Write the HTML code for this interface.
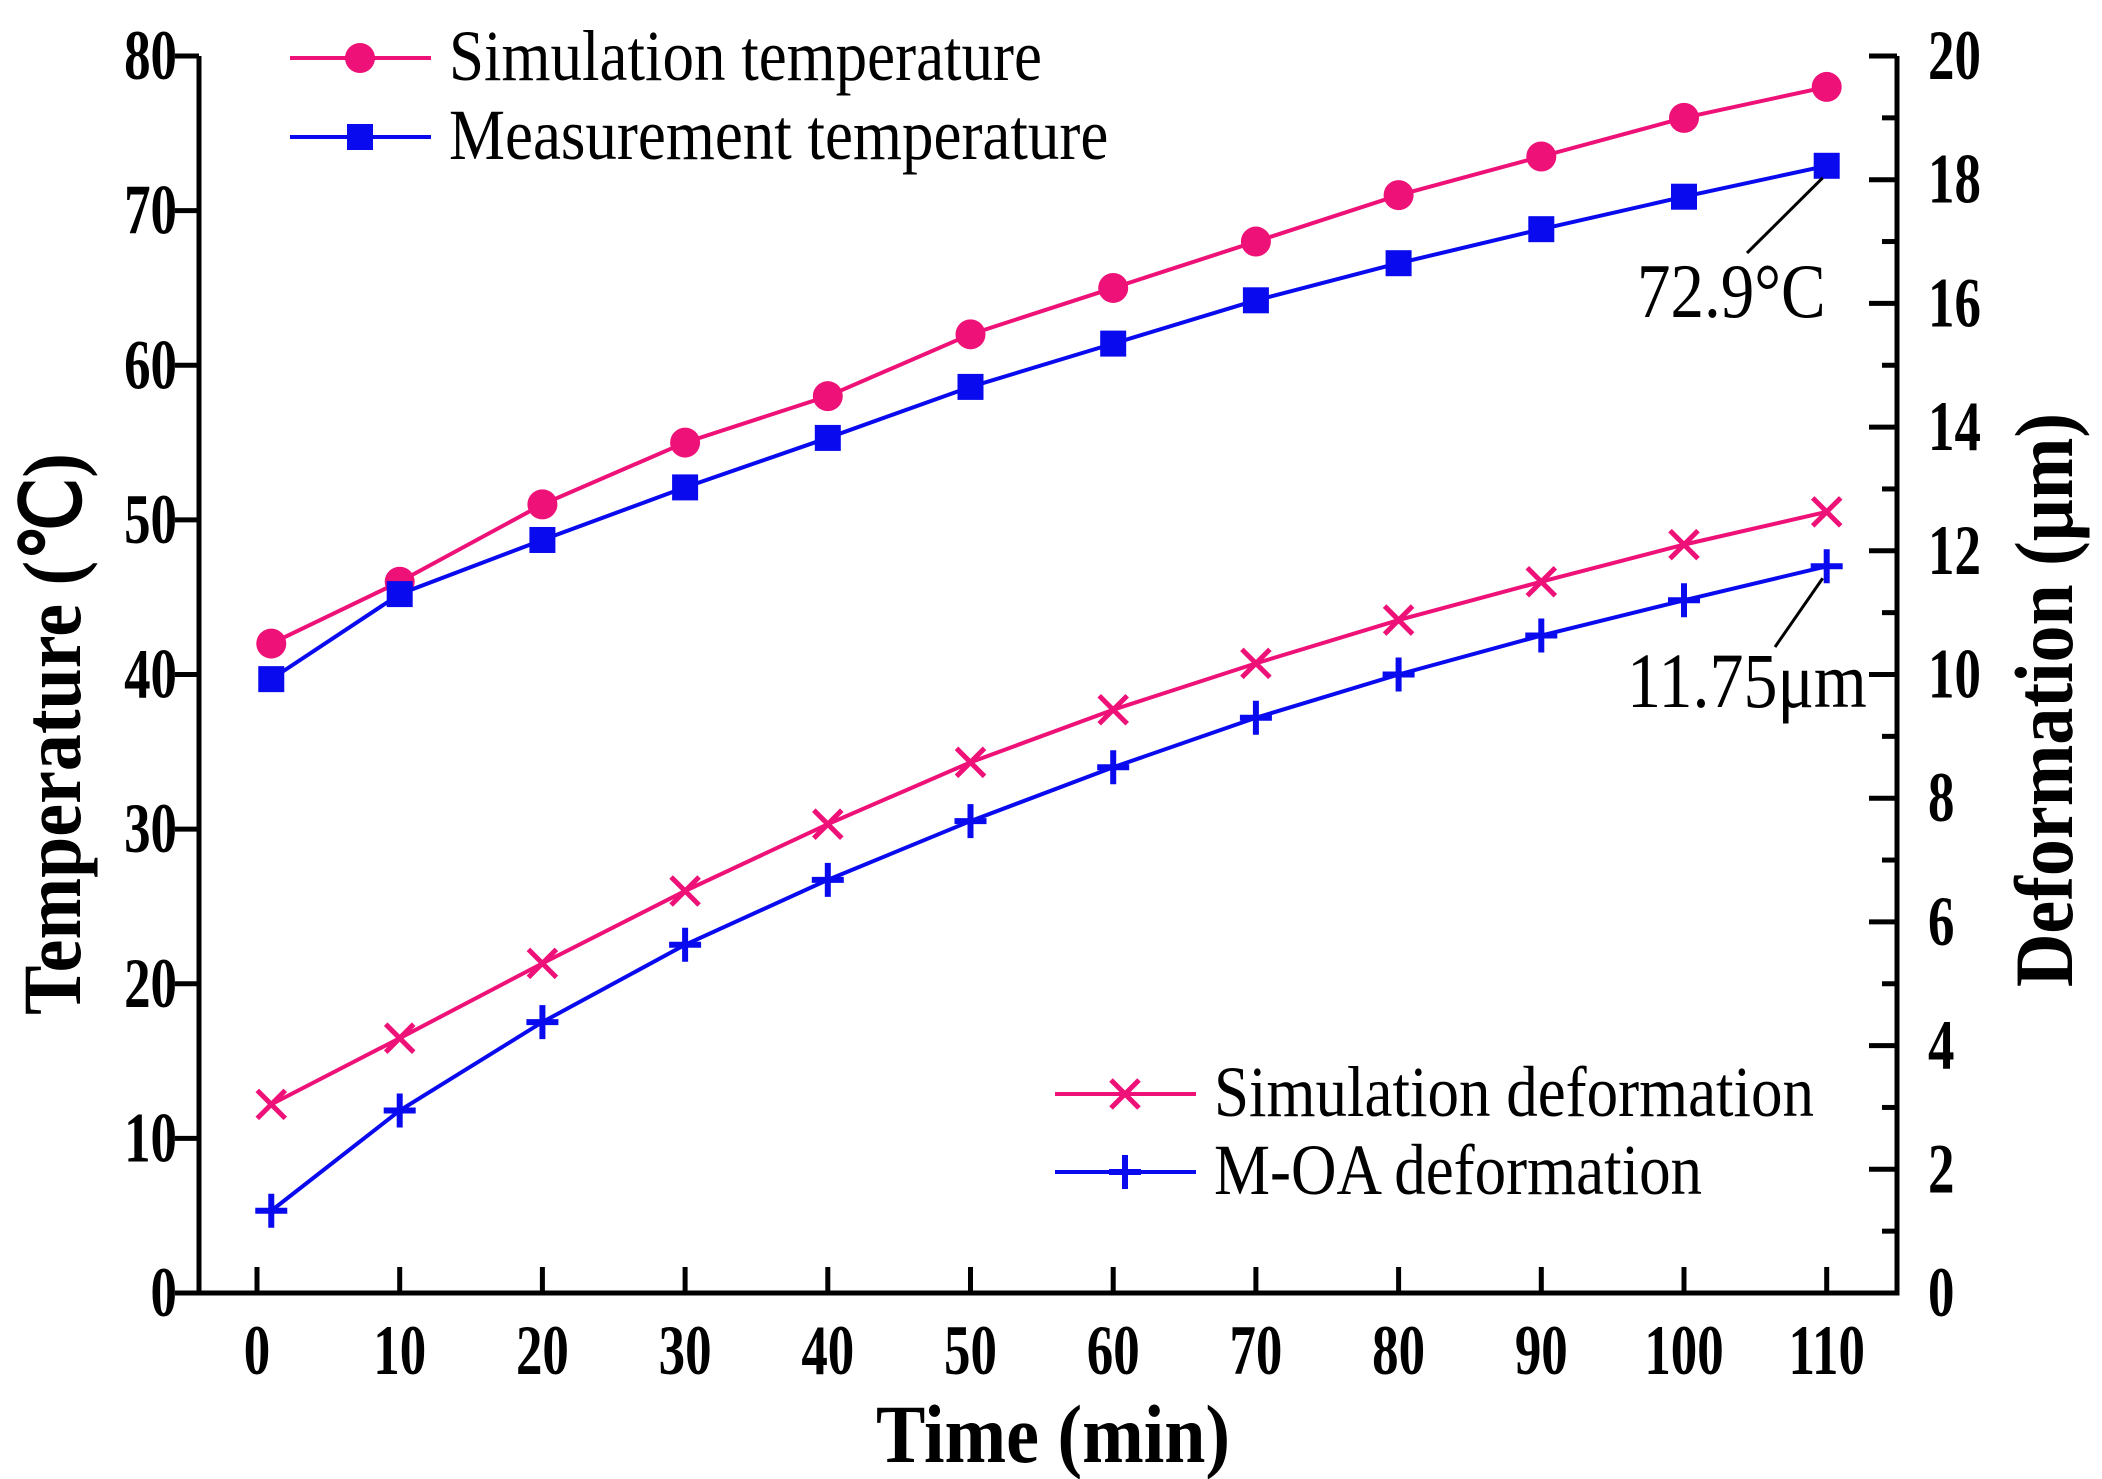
<!DOCTYPE html>
<html><head><meta charset="utf-8"><style>
html,body{margin:0;padding:0;background:#fff}
svg{display:block;font-family:"Liberation Serif",serif}
</style></head><body>
<svg id="chart" width="2102" height="1479" viewBox="0 0 2102 1479" xmlns="http://www.w3.org/2000/svg">
<g id="axes"></g><g id="series"></g>
</svg>
<script>
const times = [1,10,20,30,40,50,60,70,80,90,100,110];
const simTemp = [42,46,51,55,58,62,65,68,71,73.5,76,78];
const measTemp = [39.7,45.2,48.7,52.1,55.3,58.6,61.4,64.2,66.6,68.8,70.9,72.9];
const simDef = [3.05,4.12,5.33,6.5,7.58,8.58,9.43,10.18,10.88,11.5,12.1,12.63];
const moaDef = [1.33,2.95,4.38,5.63,6.68,7.63,8.5,9.3,10,10.63,11.2,11.75];
const xTicks = [0,10,20,30,40,50,60,70,80,90,100,110];
const leftTicks = [0,10,20,30,40,50,60,70,80];
const rightTicks = [0,2,4,6,8,10,12,14,16,18,20];

const NS="http://www.w3.org/2000/svg";
const L=199,R=1897,T=56,B=1293;
const xs=v=>257+v*14.27;
const yl=v=>B-(v/80)*(B-T);
const yr=v=>B-(v/20)*(B-T);
const axes=document.getElementById('axes'), ser=document.getElementById('series');
function el(tag,attrs,parent,text){const e=document.createElementNS(NS,tag);for(const k in attrs)e.setAttribute(k,attrs[k]);if(text!==undefined)e.textContent=text;parent.appendChild(e);return e;}
function txt(x,y,sx,sy,attrs,parent,text,rot){
  attrs.x=0;attrs.y=0;
  attrs.transform=`translate(${x},${y})`+(rot?` rotate(${rot})`:'')+` scale(${sx},${sy})`;
  return el('text',attrs,parent,text);
}

let e;
e=el('path',{d:`M${L} ${T}V${B}H${R}V${T}`,fill:'none',stroke:'#000','stroke-width':5},axes);


xTicks.forEach(v=>{
  e=el('line',{x1:xs(v),x2:xs(v),y1:B,y2:B-26,stroke:'#000','stroke-width':5},axes);
  
  
  e=txt(xs(v),1374,0.98,1.32,{'text-anchor':'middle','font-size':54,'font-weight':'bold'},axes,String(v));
  
  
});
leftTicks.forEach(v=>{
  e=el('line',{x1:L,x2:L-24,y1:yl(v),y2:yl(v),stroke:'#000','stroke-width':5},axes);
  
  
  e=txt(177,yl(v)+23,0.98,1.32,{'text-anchor':'end','font-size':54,'font-weight':'bold'},axes,String(v));
  
  
});
for(let v=0;v<=20;v++){
  const major=v%2===0;
  e=el('line',{x1:R,x2:R-(major?28:15),y1:yr(v),y2:yr(v),stroke:'#000','stroke-width':5},axes);
  
  
}
rightTicks.forEach(v=>{
  e=txt(1928,yr(v)+23,0.98,1.32,{'font-size':54,'font-weight':'bold'},axes,String(v));
  
  
});
e=txt(1053,1462,1,1.12,{'text-anchor':'middle','font-size':74,'font-weight':'bold'},axes,'Time (min)');


e=txt(80,734,1,1.12,{'text-anchor':'middle','font-size':74,'font-weight':'bold'},axes,'Temperature (℃)',-90);


e=txt(2072,700,1,1.12,{'text-anchor':'middle','font-size':74,'font-weight':'bold'},axes,'Deformation (μm)',-90);



const PINK='#ee1177',BLUE='#0a0aee';
function marker(type,x,y,color,g){
  if(type==='circle')return el('circle',{cx:x,cy:y,r:15,fill:color},g);
  if(type==='square')return el('rect',{x:x-13,y:y-13,width:26,height:26,fill:color},g);
  if(type==='x')return el('path',{d:`M${x-14} ${y-14}L${x+14} ${y+14}M${x-14} ${y+14}L${x+14} ${y-14}`,stroke:color,'stroke-width':5},g);
  return el('path',{d:`M${x-16} ${y}H${x+16}M${x} ${y-17}V${y+17}`,stroke:color,'stroke-width':6},g);
}
function series(name,vals,ys,color,type){
  const g=el('g',{},ser);
  
  
  const d=vals.map((v,i)=>(i?'L':'M')+xs(times[i])+' '+ys(v)).join('');
  el('path',{d:d,fill:'none',stroke:color,'stroke-width':4},g);
  vals.forEach((v,i)=>{const m=marker(type,xs(times[i]),ys(v),color,g);
    
    });
}
series('simulation-temperature',simTemp,yl,PINK,'circle');
series('measurement-temperature',measTemp,yl,BLUE,'square');
series('simulation-deformation',simDef,yr,PINK,'x');
series('moa-deformation',moaDef,yr,BLUE,'plus');

function legend(name,label,x1,y,color,type){
  const g=el('g',{},ser);
  
  
  el('line',{x1:x1,x2:x1+141,y1:y,y2:y,stroke:color,'stroke-width':4},g);
  marker(type,x1+70,y,color,g);
  txt(x1+159,y+22,1,1.15,{'font-size':63},g,label);
}
legend('legend-simulation-temperature','Simulation temperature',290,58,PINK,'circle');
legend('legend-measurement-temperature','Measurement temperature',290,137,BLUE,'square');
legend('legend-simulation-deformation','Simulation deformation',1055,1094,PINK,'x');
legend('legend-moa-deformation','M-OA deformation',1055,1172,BLUE,'plus');

e=el('line',{x1:xs(110)-4,y1:yl(72.9)+12,x2:1747,y2:253,stroke:'#000','stroke-width':3},ser);


e=txt(1637,317,1,1.15,{'font-size':67},ser,'72.9°C');


e=el('line',{x1:xs(110)-4,y1:yr(11.75)+12,x2:1775,y2:647,stroke:'#000','stroke-width':3},ser);


e=txt(1627,707,1,1.15,{'font-size':68},ser,'11.75μm');


</script>
</body></html>
